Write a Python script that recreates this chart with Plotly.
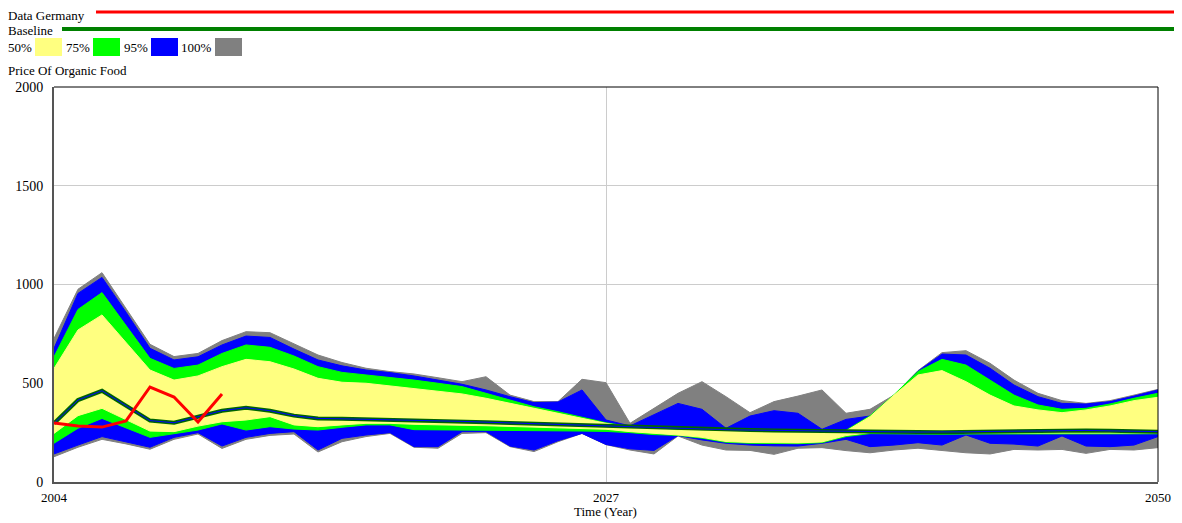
import plotly.graph_objects as go

years = list(range(2004, 2051))

# sensitivity bands (upper / lower bound of each confidence level)
p100_hi = [727, 976, 1060, 880, 697, 635, 651, 716, 761, 756, 699, 643, 605, 576, 559, 547, 528, 508, 533, 440,
           407, 407, 520, 503, 297, 373, 449, 508, 432, 351, 407, 435, 466, 348, 368, 440, 564, 655, 665, 601,
           516, 449, 412, 398, 412, 440, 469]
p100_lo = [128, 176, 216, 193, 166, 216, 243, 170, 216, 236, 243, 152, 204, 230, 246, 176, 171, 246, 250, 179,
           154, 204, 246, 189, 162, 142, 233, 187, 162, 160, 140, 171, 174, 159, 148, 162, 171, 159, 148, 142,
           165, 162, 165, 145, 165, 162, 174]
p95_hi = [677, 955, 1036, 860, 677, 618, 634, 694, 739, 732, 673, 618, 588, 567, 554, 537, 516, 495, 466, 432,
          402, 405, 466, 314, 284, 339, 398, 368, 272, 334, 361, 348, 267, 317, 334, 438, 561, 648, 643, 576,
          491, 432, 398, 395, 407, 435, 466]
p95_lo = [142, 187, 230, 203, 176, 226, 250, 182, 226, 246, 255, 162, 221, 238, 250, 179, 179, 255, 255, 182,
          162, 209, 246, 190, 168, 160, 235, 213, 196, 187, 183, 182, 196, 216, 179, 187, 199, 187, 238, 196,
          192, 182, 233, 182, 179, 187, 230]
p75_hi = [634, 874, 959, 790, 626, 575, 592, 651, 694, 682, 638, 584, 555, 542, 530, 516, 500, 483, 449, 415,
          381, 356, 327, 300, 280, 272, 265, 263, 262, 260, 258, 257, 256, 262, 335, 442, 559, 621, 592, 516,
          440, 390, 368, 373, 395, 424, 449]
p75_lo = [196, 272, 322, 274, 226, 246, 263, 294, 263, 280, 268, 263, 277, 289, 289, 265, 263, 265, 263, 261,
          260, 259, 258, 256, 250, 240, 236, 222, 201, 196, 194, 194, 199, 230, 245, 245, 244, 242, 243, 244,
          245, 246, 246, 245, 244, 244, 244]
p50_hi = [575, 770, 846, 705, 567, 516, 537, 584, 621, 609, 572, 525, 505, 500, 486, 474, 457, 446, 424, 398,
          373, 348, 322, 297, 277, 268, 262, 260, 259, 257, 255, 254, 253, 258, 331, 440, 542, 564, 508, 440,
          385, 365, 351, 365, 385, 412, 429]
p50_lo = [246, 336, 373, 316, 258, 255, 283, 305, 314, 331, 289, 280, 289, 297, 297, 292, 289, 287, 285, 281,
          277, 274, 271, 267, 255, 245, 238, 226, 205, 200, 198, 198, 203, 235, 250, 250, 248, 246, 246, 248,
          249, 250, 250, 249, 248, 248, 248]

baseline = [297, 415, 462, 385, 311, 300, 331, 361, 376, 361, 336, 322, 320, 318, 316, 314, 311, 307, 303, 299,
            295, 291, 287, 283, 278, 274, 270, 267, 265, 263, 261, 259, 257, 256, 255, 254, 253, 252, 254, 256,
            258, 260, 262, 261, 259, 257, 255]

data_years = [2004, 2005, 2006, 2007, 2008, 2009, 2010, 2011]
data_germany = [299, 284, 278, 309, 481, 430, 304, 446]

bands = [("100%", p100_hi, p100_lo, "#808080"),
         ("95%", p95_hi, p95_lo, "#0000FF"),
         ("75%", p75_hi, p75_lo, "#00FF00"),
         ("50%", p50_hi, p50_lo, "#FFFF80")]

FONT = "Liberation Serif"
OFF = 8  # page body margin of the html file
W, H = 1182 - OFF, 523 - OFF
# plot area in page pixels
L, R, T, B = 54, 1158, 87, 482


def px(x):
    return (x - L) / (R - L)


def py(y):
    return (B - y) / (B - T)


fig = go.Figure()

for name, hi, lo, col in bands:
    fig.add_trace(go.Scatter(x=years + years[::-1], y=hi + lo[::-1], fill="toself", fillcolor=col,
                             mode="lines", line=dict(color=col, width=1), name=name,
                             showlegend=False, hoverinfo="skip"))

# baseline run
fig.add_trace(go.Scatter(x=years, y=baseline, mode="lines", line=dict(color="#006400", width=4),
                         name="Baseline", showlegend=False))
fig.add_trace(go.Scatter(x=years, y=baseline, mode="lines", line=dict(color="#0000FF", width=1),
                         showlegend=False, hoverinfo="skip"))
# data
fig.add_trace(go.Scatter(x=data_years, y=data_germany, mode="lines", line=dict(color="#FF0000", width=3),
                         name="Data Germany", showlegend=False))

shapes = [
    # top and right frame
    dict(type="line", xref="paper", yref="paper", x0=0, x1=1, y0=1, y1=1, line=dict(color="black", width=1)),
    dict(type="line", xref="paper", yref="paper", x0=1, x1=1, y0=0, y1=1, line=dict(color="black", width=1)),
    # legend lines
    dict(type="line", xref="paper", yref="paper", x0=px(96), x1=px(1180), y0=py(12), y1=py(12),
         line=dict(color="#FF0000", width=3)),
    dict(type="line", xref="paper", yref="paper", x0=px(62), x1=px(1180), y0=py(29), y1=py(29),
         line=dict(color="#008000", width=4)),
]
boxes = [(35, "#FFFF80"), (93, "#00FF00"), (151, "#0000FF"), (215, "#808080")]
for bx, col in boxes:
    shapes.append(dict(type="rect", xref="paper", yref="paper", x0=px(bx), x1=px(bx + 27),
                       y0=py(56), y1=py(38), fillcolor=col, line=dict(width=0)))

texts = [("Data Germany", 6, 16), ("Baseline", 6, 31), ("50%", 6, 48), ("75%", 64, 48),
         ("95%", 122, 48), ("100%", 179, 48), ("Price Of Organic Food", 6, 70)]
annotations = [dict(text=t, xref="paper", yref="paper", x=px(x), y=py(y), xanchor="left", yanchor="middle",
                    showarrow=False, font=dict(family=FONT, size=13, color="black")) for t, x, y in texts]
# x axis title
annotations.append(dict(text="Time (Year)", xref="paper", yref="paper", x=px(605), y=py(511),
                        xanchor="center", yanchor="middle", showarrow=False,
                        font=dict(family=FONT, size=13, color="black")))

fig.update_layout(
    width=W, height=H,
    margin=dict(l=L - OFF, r=W + OFF - R, t=T - OFF, b=H + OFF - B, pad=0, autoexpand=False),
    plot_bgcolor="white", paper_bgcolor="white",
    font=dict(family=FONT, size=13, color="black"),
    shapes=shapes, annotations=annotations,
    showlegend=False,
    xaxis=dict(range=[2004, 2050], tickvals=[2004, 2027, 2050], showgrid=True, gridcolor="#CCCCCC",
               gridwidth=1, zeroline=False, showline=True, linecolor="#555555", linewidth=2, ticks="",
               ticklabelstandoff=2, automargin=False, tickfont=dict(size=13)),
    yaxis=dict(range=[0, 2000], tickvals=[0, 500, 1000, 1500, 2000], showgrid=True, gridcolor="#CCCCCC",
               gridwidth=1, zeroline=False, showline=True, linecolor="#555555", linewidth=2, ticks="",
               ticklabelstandoff=6, automargin=False, tickfont=dict(size=14)),
)

fig.write_html("out.html")
